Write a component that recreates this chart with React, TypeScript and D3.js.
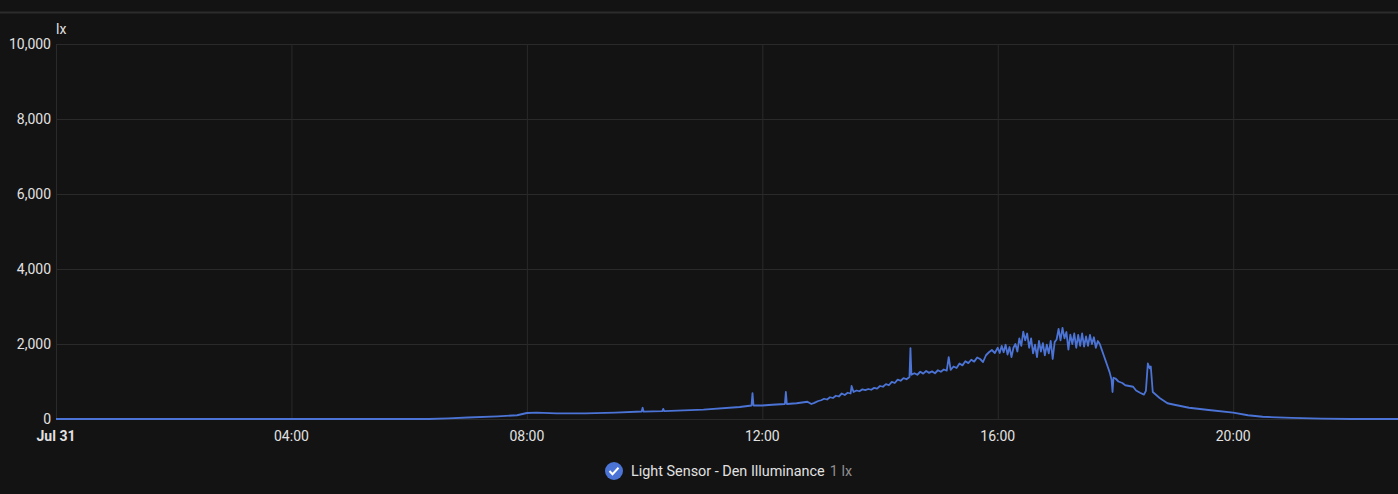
import React from "react";
import * as d3 from "d3";

// readings of the den light sensor, Jul 31 (HH:MM, lux)
const times = [
  "00:00", "06:20", "06:40", "07:00", "07:30", "07:50", "08:00", "08:10", "08:30", "09:00",
  "09:30", "09:57", "09:58", "09:59", "10:18", "10:19", "10:20", "11:00", "11:37", "11:49",
  "11:50", "11:51", "12:00", "12:10", "12:23", "12:24", "12:25", "12:35", "12:46", "12:50",
  "12:53", "12:57",
  "13:00", "13:03", "13:06", "13:09", "13:12", "13:15", "13:18", "13:21", "13:24", "13:27",
  "13:30", "13:31", "13:33", "13:36", "13:39", "13:42", "13:45", "13:48", "13:51", "13:54",
  "13:57",
  "14:00", "14:03", "14:06", "14:09", "14:12", "14:15", "14:18", "14:21", "14:24", "14:27",
  "14:30", "14:31", "14:32", "14:35", "14:38", "14:41", "14:44", "14:47", "14:50", "14:53",
  "14:56", "14:59", "15:02", "15:05", "15:08", "15:10", "15:12", "15:15", "15:18", "15:21",
  "15:24", "15:27", "15:30", "15:33", "15:36", "15:39", "15:42", "15:45", "15:48", "15:51",
  "15:54", "15:57",
  "16:00", "16:02", "16:04", "16:06", "16:08", "16:10", "16:12", "16:14", "16:16", "16:18",
  "16:20", "16:22", "16:24", "16:26", "16:28", "16:30", "16:32", "16:34", "16:36", "16:38",
  "16:40", "16:42", "16:44", "16:46", "16:48", "16:50", "16:52", "16:54", "16:56", "16:58",
  "17:00", "17:02", "17:04", "17:06", "17:08", "17:10", "17:12", "17:14", "17:16", "17:18",
  "17:20", "17:22", "17:24", "17:26", "17:28", "17:30", "17:32", "17:34", "17:36", "17:38",
  "17:40", "17:42", "17:44", "17:46", "17:48", "17:50", "17:52", "17:54", "17:56", "17:57",
  "17:58", "18:00", "18:03", "18:07", "18:10", "18:14", "18:18", "18:21", "18:25", "18:29",
  "18:31", "18:33", "18:35", "18:36", "18:38", "18:45", "18:53", "19:00", "19:15", "19:35",
  "20:00", "20:15", "20:30", "21:00", "21:30", "22:00", "22:48",
];
const lux = [
  0, 0, 15, 40, 70, 100, 160, 170, 150, 150,
  170, 200, 300, 195, 210, 270, 210, 250, 320, 360,
  690, 360, 360, 380, 400, 720, 400, 420, 460, 400,
  430, 480,
  500, 540, 520, 580, 560, 620, 600, 680, 640, 700,
  680, 880, 720, 760, 740, 790, 770, 800, 780, 830,
  810,
  880, 860, 930, 900, 990, 960, 1050, 1020, 1090, 1060,
  1120, 1890, 1180, 1220, 1180, 1260, 1210, 1280, 1230, 1270,
  1220, 1300, 1260, 1320, 1290, 1650, 1310, 1400, 1360, 1480,
  1430, 1540, 1490, 1580, 1530, 1640, 1600, 1520, 1700, 1780,
  1840, 1760,
  1900, 1760, 1950, 1780, 1980, 1720, 1920, 1650, 1900, 2000,
  1800, 2150, 1950, 2330, 2100, 2280, 1900, 2150, 1750, 1980,
  1650, 2080, 1800, 2020, 1700, 1980, 1750, 2080, 1600, 2050,
  2120, 2400, 2100, 2430, 2150, 2320, 1850, 2250, 2000, 2280,
  1900, 2240, 1950, 2280, 1930, 2200, 1950, 2240, 2000, 2180,
  1900, 2080, 2000, 1850, 1700, 1550, 1400, 1250, 1050, 720,
  1100, 1080, 1000, 960, 900, 880, 860, 760, 700, 650,
  750, 1480, 1350, 1400, 720, 560, 420, 380, 300, 240,
  170, 100, 60, 30, 10, 0, 0,
];
const yTicks = [0, 2000, 4000, 6000, 8000, 10000];
const xTickLabels = ["Jul 31", "04:00", "08:00", "12:00", "16:00", "20:00"];
const xTickTimes = ["00:00", "04:00", "08:00", "12:00", "16:00", "20:00"];
const seriesName = "Light Sensor - Den Illuminance";
const seriesUnit = "1 lx";

const parse = d3.timeParse("%Y-%m-%d %H:%M");
const toDate = (t: string) => parse(`2024-07-31 ${t}`) as Date;

export default function App() {
  const width = 1398;
  const height = 494;
  const left = 56;
  const top = 44;
  const bottom = 419;

  const x = d3
    .scaleTime()
    .domain([toDate("00:00"), toDate("22:48")])
    .range([left, width]);
  const y = d3.scaleLinear().domain([0, 10000]).range([bottom, top]);

  const points = times.map((t, i) => ({ d: toDate(t), v: lux[i] }));
  const line = d3
    .line<{ d: Date; v: number }>()
    .x((p) => x(p.d))
    .y((p) => y(p.v));

  const fmt = d3.format(",");
  const font = "Roboto, sans-serif";

  return (
    <div style={{ position: "absolute", left: 0, top: 0, width, height, background: "#131313" }}>
      <svg width={width} height={height} style={{ display: "block", fontFamily: font }}>
        <rect width={width} height={height} fill="#131313" />
        <line x1={0} x2={width} y1={12.5} y2={12.5} stroke="#2c2c2c" strokeWidth={2} />

        {yTicks.map((t) => (
          <g key={t}>
            <line x1={left} x2={width} y1={y(t) + 0.5} y2={y(t) + 0.5} stroke="#2a2a2a" />
            <text x={51} y={y(t) + 5} textAnchor="end" fill="#e1e1e1" fontSize={14}>
              {fmt(t)}
            </text>
          </g>
        ))}
        {xTickTimes.map((t, i) => (
          <g key={t}>
            <line x1={x(toDate(t)) + 0.5} x2={x(toDate(t)) + 0.5} y1={top} y2={bottom} stroke="#2a2a2a" />
            <text
              x={x(toDate(t))}
              y={441}
              textAnchor="middle"
              fill="#e1e1e1"
              fontSize={14}
              fontWeight={i === 0 ? 700 : 400}
            >
              {xTickLabels[i]}
            </text>
          </g>
        ))}
        <text x={left} y={34} fill="#e1e1e1" fontSize={14}>lx</text>

        <path d={line(points) ?? ""} fill="none" stroke="#4b74d6" strokeWidth={1.8} strokeLinejoin="round" />

        <g transform="translate(614,471)">
          <circle r={9} fill="#4b74d6" />
          <path d="M-4.5,0 L-1.5,3.2 L4.5,-3.2" fill="none" stroke="#fff" strokeWidth={2} />
        </g>
        <text x={631} y={476} fill="#e1e1e1" fontSize={14.4}>
          {seriesName}
          <tspan fill="#8f8f8f" dx={5}>{seriesUnit}</tspan>
        </text>
      </svg>
    </div>
  );
}
